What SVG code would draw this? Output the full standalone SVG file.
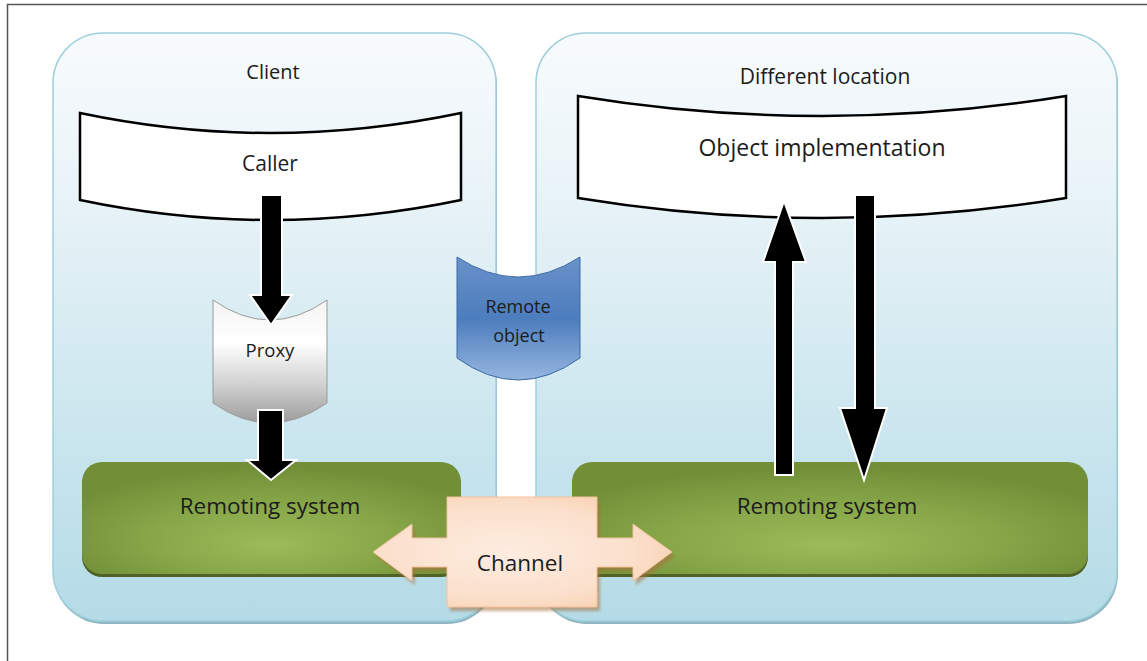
<svg xmlns="http://www.w3.org/2000/svg" width="1147" height="661" viewBox="0 0 1147 661">
  <style>
    text { font-family: "Open Sans", "Liberation Sans", sans-serif; fill: #1c1c1c; text-anchor: middle; }
    .panel { fill: url(#panelFill); stroke: #9fd0dd; stroke-width: 1.5; }
    .panelShade { fill: #8fb6c2; }
    .scroll { fill: #ffffff; stroke: #000000; stroke-width: 2.5; stroke-linejoin: miter; }
    .green { fill: url(#greenFill); }
    .greenShade { fill: #4f6228; }
    .flow { fill: #000000; stroke: #ffffff; stroke-width: 2; stroke-linejoin: miter; }
    .frame { stroke: #555555; stroke-width: 1.5; fill: none; }
  </style>
  <defs>
    <linearGradient id="panelFill" x1="0" y1="0" x2="0" y2="1">
      <stop offset="0" stop-color="#f8fbfd"/>
      <stop offset="0.25" stop-color="#eaf4f8"/>
      <stop offset="0.7" stop-color="#c9e5ee"/>
      <stop offset="1" stop-color="#b4dbe6"/>
    </linearGradient>
    <radialGradient id="greenFill" cx="0.5" cy="0.65" r="0.6" fx="0.5" fy="0.75">
      <stop offset="0" stop-color="#9cbc5a"/>
      <stop offset="0.55" stop-color="#86a648"/>
      <stop offset="1" stop-color="#728f37"/>
    </radialGradient>
    <linearGradient id="greyFill" x1="0" y1="0" x2="0" y2="1">
      <stop offset="0" stop-color="#f4f4f4"/>
      <stop offset="0.35" stop-color="#ffffff"/>
      <stop offset="0.7" stop-color="#cfcfcf"/>
      <stop offset="1" stop-color="#9c9c9c"/>
    </linearGradient>
    <linearGradient id="blueFill" x1="0" y1="0" x2="0" y2="1">
      <stop offset="0" stop-color="#6a91ca"/>
      <stop offset="0.5" stop-color="#4c7dbd"/>
      <stop offset="1" stop-color="#96b5e0"/>
    </linearGradient>
    <radialGradient id="peachFill" cx="0.45" cy="0.5" r="0.7">
      <stop offset="0" stop-color="#fdece0"/>
      <stop offset="0.6" stop-color="#fbe0cc"/>
      <stop offset="1" stop-color="#f8c9a4"/>
    </radialGradient>
    <filter id="soft" x="-10%" y="-10%" width="120%" height="130%">
      <feGaussianBlur stdDeviation="1.5"/>
    </filter>
  </defs>

  <!-- page frame (top and left rules) -->
  <path class="frame" d="M7.5,661 V4.5 H1147"/>

  <!-- client container -->
  <g id="client">
    <rect class="panelShade" x="54" y="35" width="443" height="589" rx="50"/>
    <rect class="panel" x="53" y="33" width="443" height="588" rx="50"/>
    <text x="273" y="79" font-size="20">Client</text>
  </g>

  <!-- remote location container -->
  <g id="different-location">
    <rect class="panelShade" x="537" y="35" width="581" height="589" rx="50"/>
    <rect class="panel" x="536" y="33" width="581" height="588" rx="50"/>
    <text x="825" y="84" font-size="21">Different location</text>
  </g>

  <!-- remoting systems -->
  <g id="remoting-client">
    <rect class="greenShade" x="82" y="465" width="379" height="112" rx="20"/>
    <rect class="green" x="82" y="462" width="379" height="112" rx="20"/>
    <text x="270" y="514" font-size="22.5">Remoting system</text>
  </g>
  <g id="remoting-remote">
    <rect class="greenShade" x="572" y="465" width="516" height="112" rx="20"/>
    <rect class="green" x="572" y="462" width="516" height="112" rx="20"/>
    <text x="827" y="514" font-size="22.5">Remoting system</text>
  </g>

  <!-- caller and implementation shapes -->
  <g id="caller">
    <path class="scroll" d="M80,113 Q270,153 461,113 L461,200 Q270,240 80,200 Z"/>
    <text x="270" y="171" font-size="21">Caller</text>
  </g>
  <g id="object-implementation">
    <path class="scroll" d="M578,96 Q822,136 1066,96 L1066,198 Q822,238 578,198 Z"/>
    <text x="822" y="156" font-size="23">Object implementation</text>
  </g>

  <!-- proxy -->
  <g id="proxy">
    <path d="M213,300 Q270,340 327,300 L327,403 Q270,443 213,403 Z" fill="url(#greyFill)" stroke="#9a9a9a" stroke-width="1"/>
    <text x="270" y="357" font-size="18.5">Proxy</text>
  </g>

  <!-- remote object -->
  <g id="remote-object">
    <path d="M457,257 Q518,297 580,257 L580,358 Q518,402 457,358 Z" fill="url(#blueFill)" stroke="#3d6aa5" stroke-width="1"/>
    <text x="518" y="313" font-size="18">Remote</text>
    <text x="519" y="342" font-size="18">object</text>
  </g>

  <!-- call flow arrows -->
  <g id="connectors">
    <path class="flow" d="M261,195 H282 V295 H292 L271,325 L250,295 H261 Z"/>
    <path class="flow" d="M258,410 H283 V460 H296 L271,480 L247,460 H258 Z"/>
    <path class="flow" d="M775,475 V262 H763 L784,201 L806,262 H793 V475 Z"/>
    <path class="flow" d="M855,195 H875 V408 H887 L864,480 L840,408 H855 Z"/>
  </g>

  <!-- channel between the two remoting systems -->
  <g id="channel">
    <g opacity="0.55" filter="url(#soft)">
      <path d="M376,556 L415,528 V542 H450 V501 H600 V542 H636 V528 L675,556 L636,585 V571 H600 V611 H450 V571 H415 V585 Z" fill="#a86f3c"/>
    </g>
    <path d="M373,552 L412,524 V538 H447 V497 H597 V538 H633 V524 L672,552 L633,581 V567 H597 V607 H447 V567 H412 V581 Z" fill="url(#peachFill)" stroke="#f3c19c" stroke-width="1"/>
    <text x="520" y="571" font-size="22.5">Channel</text>
  </g>
</svg>
